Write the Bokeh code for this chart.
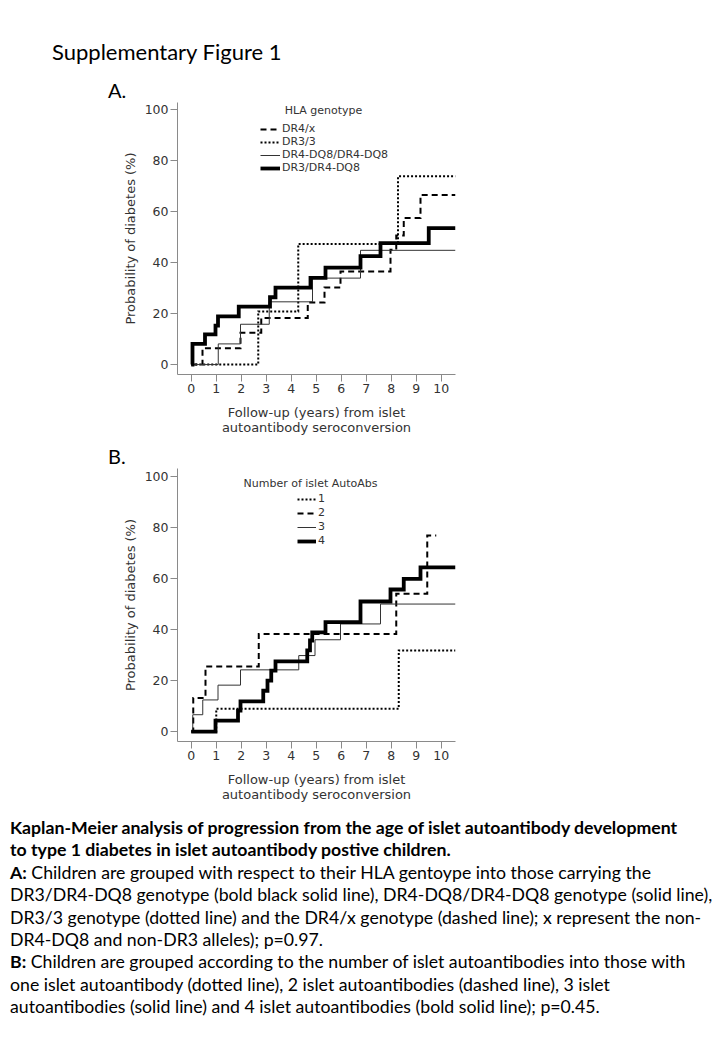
from bokeh.plotting import figure
from bokeh.models import Range1d, Label, Legend, LegendItem, FixedTicker, Div
from bokeh.layouts import column
from bokeh.embed import file_html
from bokeh.resources import INLINE

# ---------------- data ----------------
tick_years = [0, 1, 2, 3, 4, 5, 6, 7, 8, 9, 10]
tick_pct = [0, 20, 40, 60, 80, 100]

# Panel A: HLA genotype (time in years, cumulative probability %)
a_dr4x_t = [0, 0.45, 1.97, 2.8, 4.66, 5.33, 5.97, 7.97, 8.2, 8.5, 9.17, 10.57]
a_dr4x_v = [0, 6.4, 12.5, 18.3, 24.3, 30.2, 36.5, 45.0, 50.6, 57.5, 66.5, 66.5]
a_dr33_t = [0, 2.68, 4.28, 8.27, 10.57]
a_dr33_v = [0, 20.8, 47.3, 73.8, 73.8]
a_dq8_t = [0, 1.08, 1.97, 3.12, 4.85, 6.77, 10.57]
a_dq8_v = [0, 8.1, 15.8, 24.6, 33.9, 44.8, 44.8]
a_dr3dq8_t = [0, 0.05, 0.55, 0.97, 1.07, 1.9, 3.15, 3.37, 4.77, 5.37, 6.77, 7.57, 9.5, 10.57]
a_dr3dq8_v = [0, 8.1, 11.8, 15.3, 18.9, 22.7, 26.4, 30.2, 34.0, 38.0, 42.5, 47.6, 53.5, 53.5]
a_labels = ["DR4/x", "DR3/3", "DR4-DQ8/DR4-DQ8", "DR3/DR4-DQ8"]

# Panel B: number of islet autoantibodies
b_1_t = [0, 1.0, 8.3, 10.57]
b_1_v = [0, 8.9, 31.8, 31.8]
b_2_t = [0, 0.08, 0.57, 2.7, 8.2, 9.44, 9.8]
b_2_v = [0, 13.2, 25.5, 38.3, 54.0, 76.9, 76.9]
b_3_t = [0, 0.06, 0.46, 1.07, 1.97, 4.3, 4.95, 5.97, 7.57, 10.57]
b_3_v = [0, 6.6, 12.4, 18.2, 24.2, 29.8, 36.0, 42.2, 50.0, 50.0]
b_4_t = [0, 0.97, 1.87, 1.97, 2.88, 3.05, 3.2, 3.37, 4.64, 4.75, 4.84, 5.37, 6.77, 7.97, 8.5, 9.17, 10.57]
b_4_v = [0, 4.3, 8.2, 11.8, 16.0, 20.0, 23.9, 27.5, 31.8, 35.7, 38.9, 42.9, 51.0, 55.7, 59.9, 64.4, 64.4]
b_labels = ["1", "2", "3", "4"]

page_title = "Supplementary Figure 1"
panel_a_tag = "A."
panel_b_tag = "B."
legend_a_title = "HLA genotype"
legend_b_title = "Number of islet AutoAbs"
x_label = "Follow-up (years) from islet\nautoantibody seroconversion"
y_label = "Probability of diabetes (%)"

caption_lines = [
    ("", "Kaplan-Meier analysis of progression from the age of islet autoantibody development"),
    ("", "to type 1 diabetes in  islet autoantibody postive children."),
    ("A:", " Children are grouped with respect to  their HLA gentoype into those carrying the"),
    ("", "DR3/DR4-DQ8  genotype (bold black solid line), DR4-DQ8/DR4-DQ8 genotype (solid line),"),
    ("", "DR3/3 genotype (dotted line) and the DR4/x genotype (dashed line); x represent the non-"),
    ("", "DR4-DQ8 and non-DR3 alleles); p=0.97."),
    ("B:", " Children are grouped according to the number of islet autoantibodies into those with"),
    ("", "one islet autoantibody (dotted line),  2 islet autoantibodies (dashed line), 3 islet"),
    ("", "autoantibodies (solid line) and 4 islet autoantibodies (bold solid line); p=0.45."),
]
caption_bold_lines = 2

# ---------------- styles ----------------
W = 712
PX_PER_PCT = 2.55
STY_THICK = dict(line_color="black", line_width=3.8, line_dash="solid")
STY_THIN = dict(line_color="#333333", line_width=1.0, line_dash="solid")
STY_DASH = dict(line_color="black", line_width=2.0, line_dash="6 4")
STY_DOT = dict(line_color="black", line_width=2.0, line_dash="2 2")

AX_FONT = "DejaVu Sans"
TXT = "#333333"
AXC = "#8a8a8a"
CAP_STYLE = "font-family:Lato;font-size:17.7px;fill:#000000;"
TAG_STYLE = "font-family:Lato;font-size:20px;fill:#000000;"
HEAD_STYLE = "font-family:Lato;font-size:22px;fill:#000000;"


def svg_div(height, body):
    html = ('<svg xmlns="http://www.w3.org/2000/svg" width="%d" height="%d" '
            'style="display:block;white-space:pre">%s</svg>') % (W, height, body)
    return Div(text=html, width=W, height=height, margin=0)


def make_panel(height, bottom, series, legend_loc, legend_spacing, glyph_w,
               legend_title, title_xy):
    frame_h = height - bottom
    p = figure(width=W, height=height, output_backend="svg", toolbar_location=None,
               x_range=Range1d(-0.55, 10.57),
               y_range=Range1d(-3.9, -3.9 + frame_h / PX_PER_PCT),
               min_border_left=177, min_border_right=W - 455,
               min_border_top=0, min_border_bottom=bottom)
    p.outline_line_color = None
    p.xgrid.visible = False
    p.ygrid.visible = False
    p.xaxis.ticker = FixedTicker(ticks=tick_years)
    p.yaxis.ticker = FixedTicker(ticks=tick_pct)
    p.xaxis.axis_label = x_label
    p.yaxis.axis_label = y_label
    for ax in (p.xaxis[0], p.yaxis[0]):
        ax.axis_line_color = AXC
        ax.major_tick_line_color = AXC
        ax.minor_tick_line_color = None
        ax.major_tick_in = 0
        ax.major_tick_out = 7
        ax.major_label_text_font = AX_FONT
        ax.major_label_text_font_size = "12.5px"
        ax.major_label_text_color = TXT
        ax.major_label_standoff = 2
        ax.axis_label_text_font = AX_FONT
        ax.axis_label_text_font_size = "13px"
        ax.axis_label_text_font_style = "normal"
        ax.axis_label_text_color = TXT
    p.xaxis[0].axis_label_standoff = 9
    p.yaxis[0].axis_label_standoff = 4
    p.xaxis[0].axis_label_text_line_height = 1.0

    items = []
    for label, t, v, sty in series:
        r = p.step(t, v, mode="after", line_join="miter", **sty)
        items.append(LegendItem(label=label, renderers=[r]))
    lg = Legend(items=items, location=legend_loc, orientation="vertical",
                padding=0, margin=0, spacing=legend_spacing,
                glyph_width=glyph_w, glyph_height=12, label_height=12,
                label_standoff=2, label_text_font=AX_FONT,
                label_text_font_size="11px", label_text_color=TXT,
                border_line_color=None, background_fill_alpha=0)
    p.add_layout(lg)
    p.add_layout(Label(x=title_xy[0], y=title_xy[1], x_units="screen", y_units="screen",
                       text=legend_title, text_font=AX_FONT, text_font_size="11px",
                       text_color=TXT, text_baseline="middle", text_align="center"))
    return p


# header (page y 0..102)
head = svg_div(102,
               '<text x="52" y="60" style="%s">%s</text>'
               '<text x="108" y="97.5" style="%s">%s</text>'
               % (HEAD_STYLE, page_title, TAG_STYLE, panel_a_tag))

# Panel A (page y 102..442), frame 102..374
pa = make_panel(340, 68, [
    (a_labels[0], a_dr4x_t, a_dr4x_v, STY_DASH),
    (a_labels[1], a_dr33_t, a_dr33_v, STY_DOT),
    (a_labels[2], a_dq8_t, a_dq8_v, STY_THIN),
    (a_labels[3], a_dr3dq8_t, a_dr3dq8_v, STY_THICK),
], (83, 200), 0, 20, legend_a_title, (146, 264))

# B tag (page y 442..468)
btag = svg_div(26, '<text x="108" y="21.5" style="%s">%s</text>' % (TAG_STYLE, panel_b_tag))

# Panel B (page y 468..815), frame 468..741
pb = make_panel(347, 74, [
    (b_labels[0], b_1_t, b_1_v, STY_DOT),
    (b_labels[1], b_2_t, b_2_v, STY_DASH),
    (b_labels[2], b_3_t, b_3_v, STY_THIN),
    (b_labels[3], b_4_t, b_4_v, STY_THICK),
], (120, 194), 1, 19, legend_b_title, (133, 258))

# Caption (page y 815..1032)
rows = []
for i, (lead, rest) in enumerate(caption_lines):
    yb = 19 + 22.4 * i
    if i < caption_bold_lines:
        rows.append('<text x="10" y="%.1f" style="%sfont-weight:bold;">%s</text>'
                    % (yb, CAP_STYLE, rest))
    elif lead:
        rows.append('<text x="10" y="%.1f" style="%s"><tspan style="font-weight:bold;">%s</tspan>%s</text>'
                    % (yb, CAP_STYLE, lead, rest))
    else:
        rows.append('<text x="10" y="%.1f" style="%s">%s</text>' % (yb, CAP_STYLE, rest))
cap = svg_div(217, "".join(rows))

layout = column(head, pa, btag, pb, cap, spacing=0)
open("out.html", "w").write(file_html(layout, INLINE))
